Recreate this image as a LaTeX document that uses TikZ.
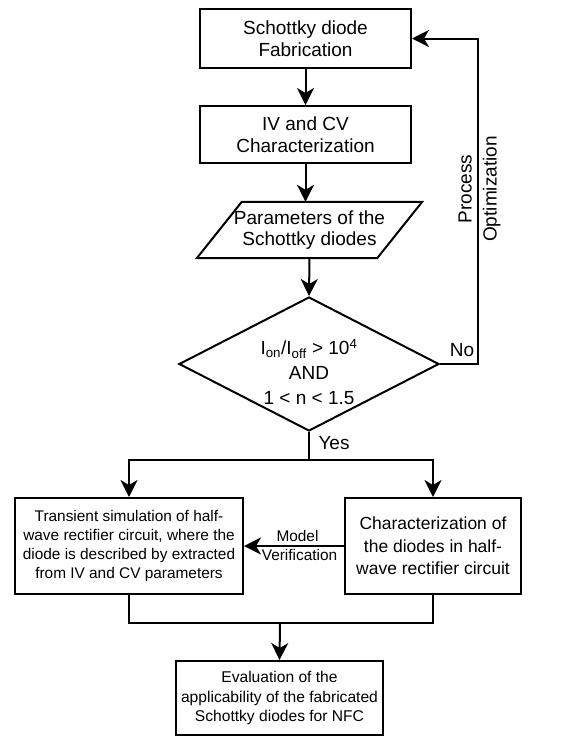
\documentclass[tikz,border=0pt]{standalone}
\usepackage{fontspec}
\setmainfont{Liberation Sans}
\usetikzlibrary{arrows.meta,shapes.geometric}
\tikzset{
  box/.style={draw,line width=2pt,rectangle,inner sep=0pt,align=center},
  conn/.style={line width=2pt},
  arr/.style={line width=2pt,-{Stealth[length=17pt,width=17pt,inset=5pt]}},
  big/.style={font=\fontsize{19}{22}\selectfont},
  small/.style={font=\fontsize{15.4}{19.3}\selectfont},
}
\begin{document}
\begin{tikzpicture}[x=1pt,y=-1pt]
\useasboundingbox (0,0) rectangle (574,737);
\node[box,big,minimum width=211pt,minimum height=59pt] (fab) at (305.5,38.5) {Schottky diode\\Fabrication};
\node[box,big,minimum width=211pt,minimum height=57pt] (ivcv) at (305.5,134.5) {IV and CV\\Characterization};
\node[inner sep=0pt,align=center,font=\fontsize{19}{21.7}\selectfont,minimum width=180pt,minimum height=56pt] (par) at (309.5,230) {Parameters of the\\Schottky diodes};
\draw[conn] ([xshift=22.5pt]par.north west) -- ([xshift=22.5pt]par.north east) -- ([xshift=-22.5pt]par.south east) -- ([xshift=-22.5pt]par.south west) -- cycle;
\node[draw,line width=2pt,diamond,inner sep=0pt,minimum width=260pt,minimum height=134pt] (dia) at (309,364) {};
\node[align=center,inner sep=0pt,font=\fontsize{19}{25}\selectfont] (dtext) at (309,372) {I\textsubscript{on}/I\textsubscript{off} > 10\textsuperscript{4}\\AND\\1 < n < 1.5};
\node[box,small,minimum width=228pt,minimum height=96pt] (sim) at (129,546) {Transient simulation of half-\\wave rectifier circuit, where the\\diode is described by extracted\\from IV and CV parameters};
\node[box,font=\fontsize{17.5}{22.5}\selectfont,minimum width=176pt,minimum height=96pt] (meas) at (433,546) {Characterization of\\the diodes in half-\\wave rectifier circuit};
\node[box,font=\fontsize{15.6}{19.3}\selectfont,minimum width=207pt,minimum height=74pt] (eval) at (279.5,698) {Evaluation of the\\applicability of the fabricated\\Schottky diodes for NFC};
% connectors
\draw[arr] (fab.south) -- (ivcv.north);
\draw[arr] (ivcv.south) -- (ivcv.south |- par.north);
\draw[arr] (par.south) -- (dia.north);
\coordinate (fbr) at (478,364);
\draw[arr] (dia.east) -- (fbr) |- (fab.east);
\node[big,inner sep=0pt] (no) at (462,350) {No};
\node[rotate=90,align=center,inner sep=0pt,font=\fontsize{19}{25}\selectfont] (po) at (479.5,189) {Process\\Optimization};
\coordinate (sp) at (309,460);
\draw[conn] (dia.south) -- (sp);
\node[big,inner sep=0pt] (yes) at (334,443) {Yes};
\draw[arr] (sp) -| (sim.north);
\draw[arr] (sp) -| (meas.north);
\draw[arr] (meas.west) -- (sim.east);
\node[align=center,inner sep=0pt,font=\fontsize{15.4}{19}\selectfont] (mv) at (297.5,545.5) {Model\\\hspace*{4pt}Verification};
\coordinate (mg) at (280,623);
\draw[conn] (sim.south) |- (mg) -| (meas.south);
\draw[arr] (mg) -- (eval.north);
\end{tikzpicture}
\end{document}
